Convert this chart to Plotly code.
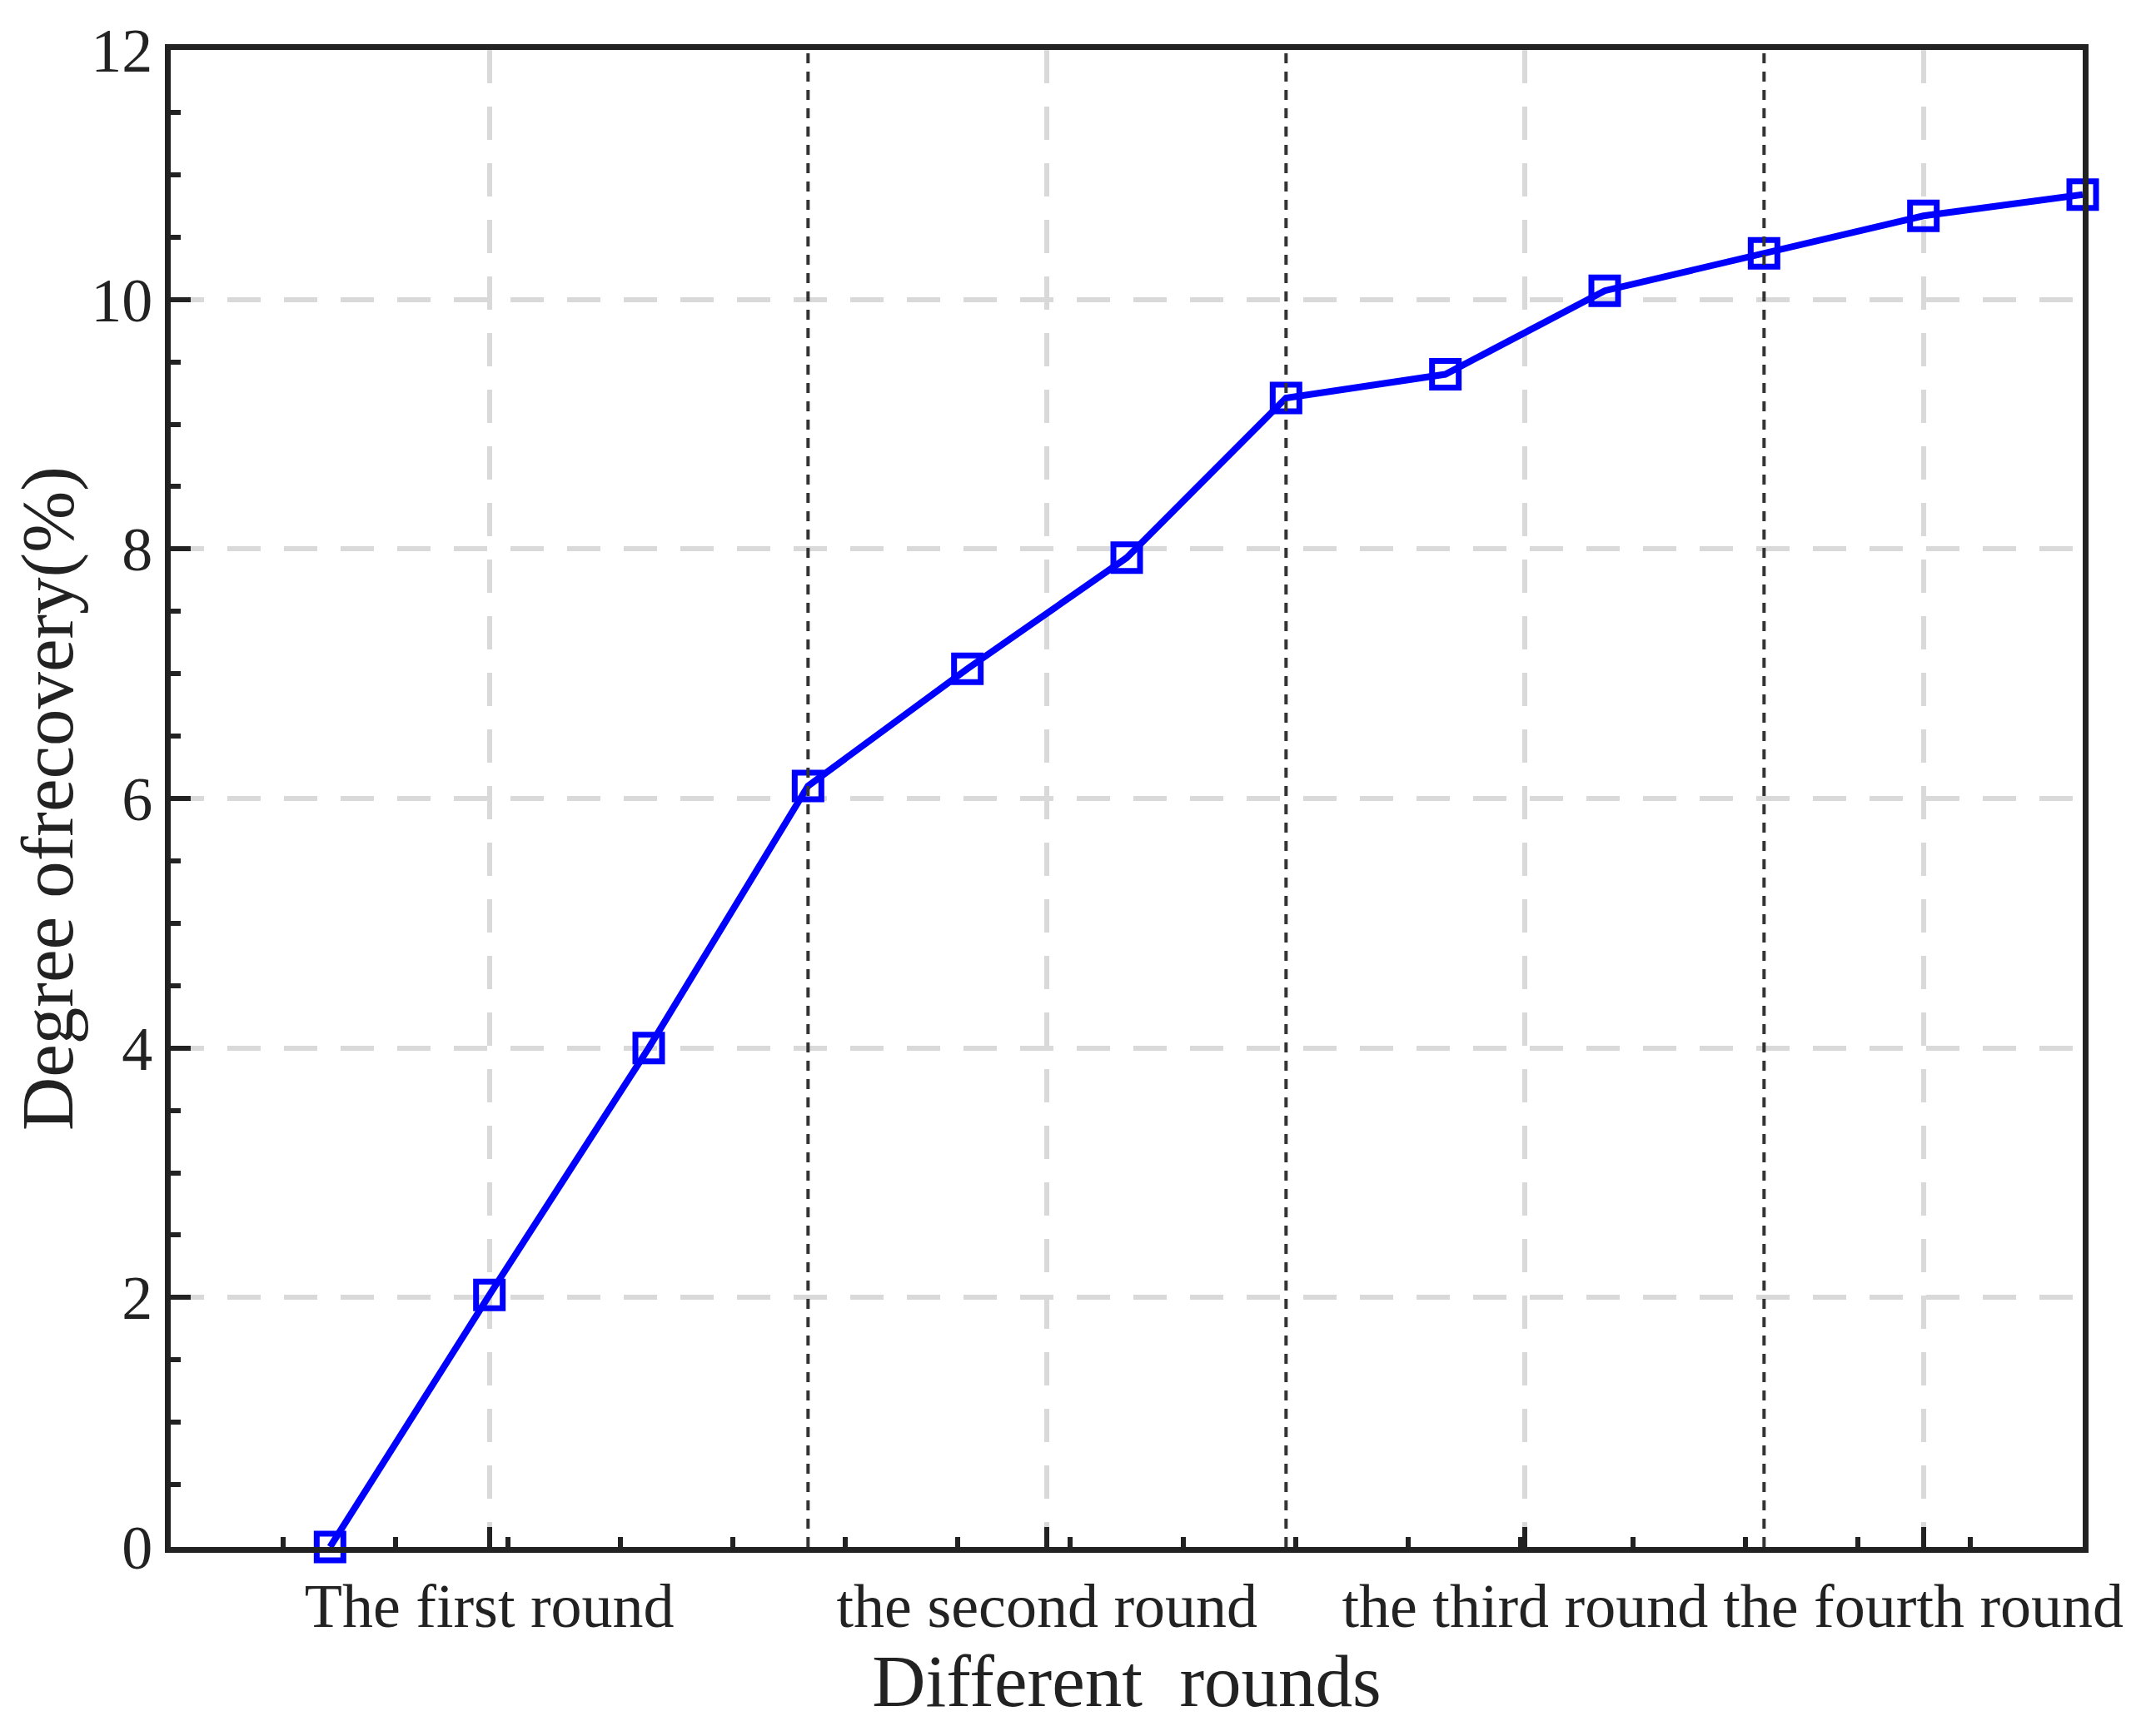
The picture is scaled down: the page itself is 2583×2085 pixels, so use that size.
import plotly.graph_objects as go

x_pos = [1, 2, 3, 4, 5, 6, 7, 8, 9, 10, 11, 12]
recovery = [0.0, 2.02, 4.0, 6.1, 7.04, 7.93, 9.21, 9.40, 10.07, 10.37, 10.67, 10.84]
round_ticks = [2, 5.5, 8.5, 11]
round_labels = ["The first round", "the second round", "the third round", "the fourth round"]
round_bounds = [4, 7, 10]

font = dict(family="Liberation Serif, Times New Roman, serif", size=74, color="#222")

fig = go.Figure()
fig.add_trace(go.Scatter(
    x=x_pos, y=recovery, mode="lines+markers",
    line=dict(color="#0000ff", width=8),
    marker=dict(symbol="square-open", size=32, color="#0000ff", line=dict(width=7)),
    showlegend=False, cliponaxis=False))

for b in round_bounds:
    fig.add_vline(x=b, line=dict(color="#333", width=4, dash="12px,10px"))

grid_dash = "40px,28px"
fig.update_layout(
    width=2583, height=2085, plot_bgcolor="white", paper_bgcolor="white",
    margin=dict(l=197, r=90, t=42, b=235), font=font,
    xaxis=dict(range=[0, 12], tickvals=round_ticks, ticktext=round_labels,
               showgrid=True, gridcolor="#d9d9d9", gridwidth=6, griddash=grid_dash,
               ticks="inside", ticklen=24, tickwidth=6, tickcolor="#222",
               minor=dict(ticks="inside", ticklen=12, tickwidth=6, tickcolor="#222",
                          tick0=0, dtick=12 / 17, showgrid=False),
               showline=True, linecolor="#222", linewidth=7, mirror=True, zeroline=False,
               title=dict(text="Different  rounds", standoff=8)),
    yaxis=dict(range=[0, 12], dtick=2,
               showgrid=True, gridcolor="#d9d9d9", gridwidth=6, griddash=grid_dash,
               ticks="inside", ticklen=24, tickwidth=6, tickcolor="#222",
               minor=dict(ticks="inside", ticklen=12, tickwidth=6, tickcolor="#222",
                          dtick=0.5, showgrid=False),
               showline=True, linecolor="#222", linewidth=7, mirror=True, zeroline=False,
               title=dict(text="Degree ofrecovery(%)", standoff=25)),
)

fig.write_html("out.html")
